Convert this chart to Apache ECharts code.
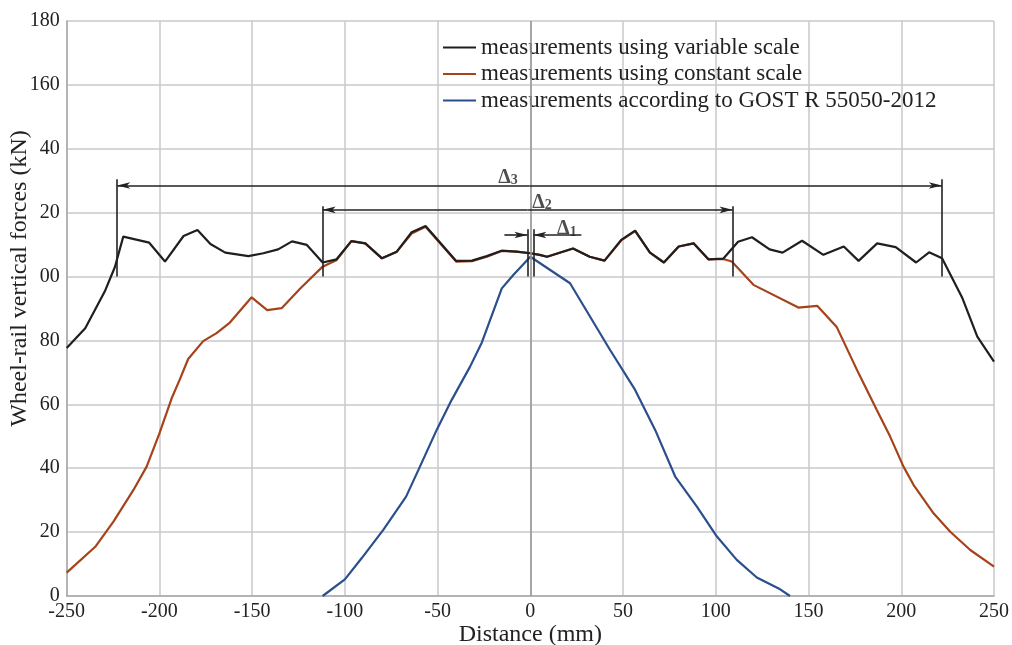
<!DOCTYPE html>
<html>
<head>
<meta charset="utf-8">
<script src="https://cdn.jsdelivr.net/npm/echarts@6/dist/echarts.min.js"></script>
<style>
html,body{margin:0;padding:0;background:#fff;}
#chart{width:1012px;height:645px;}
</style>
</head>
<body>
<div id="chart"></div>
<script>
// ---- data ----
const xTicks = [-250, -200, -150, -100, -50, 0, 50, 100, 150, 200, 250];
const yTickLabels = ['0', '20', '40', '60', '80', '00', '20', '40', '160', '180'];

const seriesNames = [
  'measurements using variable scale',
  'measurements using constant scale',
  'measurements according to GOST R 55050-2012'
];

const variableX = [-250, -240, -229.5, -224, -219.5, -205.5, -197, -187, -179.5, -172.5, -164.5, -152, -144, -136, -128.5, -120.5, -112, -104.5, -96.5, -89, -80, -72, -64, -56.5, -40, -31.5, -23.5, -15.5, -7.5, 0, 5, 9, 23, 32, 40, 49, 56.5, 64.5, 72, 80, 88, 96, 104, 112, 119.5, 129, 136, 146.5, 158, 169, 177, 187, 197, 208, 215, 222, 233, 241, 250];
const variableY = [77.6, 83.8, 95.3, 103, 112.5, 110.6, 104.7, 112.7, 114.6, 110.2, 107.5, 106.4, 107.3, 108.5, 111, 109.9, 104.4, 105.4, 111.1, 110.4, 105.7, 107.8, 113.9, 115.8, 104.9, 105, 106.4, 108.1, 107.8, 107.3, 106.8, 106.2, 108.8, 106.2, 105, 111.5, 114.4, 107.5, 104.4, 109.4, 110.4, 105.4, 105.6, 110.9, 112.3, 108.5, 107.5, 111.2, 106.8, 109.4, 104.9, 110.4, 109.2, 104.4, 107.6, 105.7, 93.2, 81.2, 73.4];

const constantX = [-250, -234.6, -224.8, -214, -206.9, -200, -193.4, -189, -184.5, -176.4, -169.2, -162, -150.3, -141.9, -134.1, -124.2, -112, -104.4, -96.5, -89, -80, -72, -64, -56.5, -40, -31.5, -23.5, -15.5, -7.5, 0, 5, 9, 23, 32, 40, 49, 56.5, 64.5, 72, 80, 88, 96, 104, 108.6, 120.3, 144.5, 154.8, 165.3, 177, 186.8, 194, 201.2, 206.6, 217.4, 226.4, 237.2, 250];
const constantY = [7.3, 15.4, 23.3, 33.2, 40.5, 50.9, 61.9, 67.8, 74.2, 79.8, 82.3, 85.6, 93.5, 89.5, 90.1, 96.2, 103.1, 105.2, 111.1, 110.4, 105.7, 107.8, 113.5, 115.6, 104.7, 104.8, 106.2, 108, 107.8, 107.3, 106.8, 106.2, 108.8, 106.2, 105, 111.3, 114.2, 107.5, 104.4, 109.4, 110.4, 105.4, 105.5, 104.7, 97.4, 90.3, 90.8, 84.1, 69.7, 58.2, 49.9, 40.5, 34.8, 25.9, 20.1, 14.4, 9.2];

const gostX = [-112, -100, -91, -79.3, -67, -60.4, -50.5, -42.4, -32.5, -26.2, -15.4, -9.2, 0, 21.4, 43, 56.5, 67.3, 78.1, 89.8, 100.6, 111.3, 122.1, 134.7, 140];
const gostY = [0, 5.2, 11.8, 20.7, 31.1, 39.4, 52, 61.4, 71.8, 79.3, 96.3, 100.5, 106.2, 97.9, 77, 64.5, 52, 37.4, 28, 18.6, 11.3, 5.8, 2.1, 0];

// dimension annotations (data units)
const dimSub = ['3', '2', '1'];
const dimLeft = [-222.8, -112, -1.6];
const dimRight = [221.9, 109, 1.6];
const dimLevel = [128.5, 120.9, 113];
const dimTop = [130.5, 122, 114.8];
const dimBase = 100;
const delta1Leader = [-14, 27.5];
const labelX = [-12, 6.3, 19.7];
const labelY = [131.2, 123.4, 115.2];

// ---- build ----
const colors = ['#1f1f1f', '#a5431a', '#2b4f8c'];
const FONT = '"Liberation Serif", "Times New Roman", serif';
const zip = (a, b) => a.map((v, i) => [v, b[i]]);

const markData = [];
for (let i = 0; i < 3; i++) {
  markData.push([{coord: [dimLeft[i], dimTop[i]]}, {coord: [dimLeft[i], dimBase]}]);
  markData.push([{coord: [dimRight[i], dimTop[i]]}, {coord: [dimRight[i], dimBase]}]);
  if (i < 2) {
    const mid = (dimLeft[i] + dimRight[i]) / 2;
    markData.push([{coord: [mid, dimLevel[i]]}, {coord: [dimLeft[i], dimLevel[i]], symbol: 'arrow'}]);
    markData.push([{coord: [mid, dimLevel[i]]}, {coord: [dimRight[i], dimLevel[i]], symbol: 'arrow'}]);
  } else {
    markData.push([{coord: [delta1Leader[0], dimLevel[i]]}, {coord: [dimLeft[i], dimLevel[i]], symbol: 'arrow'}]);
    markData.push([{coord: [delta1Leader[1], dimLevel[i]]}, {coord: [dimRight[i], dimLevel[i]], symbol: 'arrow'}]);
  }
}

const chart = echarts.init(document.getElementById('chart'));
chart.setOption({
  animation: false,
  backgroundColor: '#fff',
  textStyle: {fontFamily: FONT},
  grid: {left: 66.7, right: 18, top: 21, bottom: 49, containLabel: false, outerBoundsMode: 'none'},
  legend: {
    data: seriesNames,
    orient: 'vertical',
    left: 438,
    top: 31,
    itemGap: 3.5,
    itemWidth: 33,
    itemHeight: 2,
    icon: 'rect',
    textStyle: {fontFamily: FONT, fontSize: 23, color: '#222', lineHeight: 23}
  },
  xAxis: {
    type: 'value',
    min: -250, max: 250, interval: 50,
    name: 'Distance (mm)',
    nameLocation: 'middle',
    nameGap: 27,
    nameMoveOverlap: false,
    nameTextStyle: {fontFamily: FONT, fontSize: 24, color: '#222'},
    axisLine: {onZero: false, lineStyle: {color: '#a9a9a9', width: 1.5}},
    axisTick: {show: false},
    axisLabel: {fontFamily: FONT, fontSize: 20, color: '#222', margin: 6, showMinLabel: true, showMaxLabel: true},
    splitLine: {show: true, lineStyle: {color: '#c8c8cc', width: 1.5}}
  },
  yAxis: {
    type: 'value',
    min: 0, max: 180, interval: 20,
    name: 'Wheel-rail vertical forces (kN)',
    nameLocation: 'middle',
    nameGap: 35,
    nameMoveOverlap: false,
    nameTextStyle: {fontFamily: FONT, fontSize: 24, color: '#222', padding: [0, 0, 0, 60]},
    axisLine: {show: true, onZero: false, lineStyle: {color: '#a9a9a9', width: 1.5}},
    axisTick: {show: false},
    axisLabel: {
      fontFamily: FONT, fontSize: 20, color: '#222', margin: 7,
      showMinLabel: true, showMaxLabel: true,
      formatter: v => yTickLabels[Math.round(v / 20)]
    },
    splitLine: {show: true, lineStyle: {color: '#c8c8cc', width: 1.5}}
  },
  series: [
    {
      name: seriesNames[1], type: 'line', data: zip(constantX, constantY),
      showSymbol: false, symbol: 'none', color: colors[1],
      lineStyle: {width: 2.2, color: colors[1]}, z: 3,
      markLine: {
        silent: true, symbol: ['none', 'none'],
        label: {show: false},
        lineStyle: {type: 'solid', color: '#9a9a9a', width: 1.6},
        data: [[{coord: [0, 0]}, {coord: [0, 180]}]]
      }
    },
    {
      name: seriesNames[0], type: 'line', data: zip(variableX, variableY),
      showSymbol: false, symbol: 'none', color: colors[0],
      lineStyle: {width: 2.2, color: colors[0]}, z: 4
    },
    {
      name: seriesNames[2], type: 'line', data: zip(gostX, gostY),
      showSymbol: false, symbol: 'none', color: colors[2],
      lineStyle: {width: 2.2, color: colors[2]}, z: 3
    },
    {
      name: 'dimensions', type: 'scatter',
      data: dimSub.map((s, i) => ({value: [labelX[i], labelY[i]], name: s})),
      symbolSize: 0, z: 6,
      label: {
        show: true, position: 'inside',
        formatter: p => '{d|\u0394}{s|' + p.name + '}',
        rich: {
          d: {fontFamily: FONT, fontSize: 20, fontWeight: 'bold', color: '#222', lineHeight: 22, verticalAlign: 'bottom'},
          s: {fontFamily: FONT, fontSize: 14, fontWeight: 'bold', color: '#222', lineHeight: 16, verticalAlign: 'bottom'}
        }
      },
      markLine: {
        silent: true, symbol: ['none', 'none'], symbolSize: [5, 13],
        label: {show: false},
        lineStyle: {type: 'solid', color: '#222', width: 1.6},
        data: markData
      }
    }
  ]
});
</script>
</body>
</html>
